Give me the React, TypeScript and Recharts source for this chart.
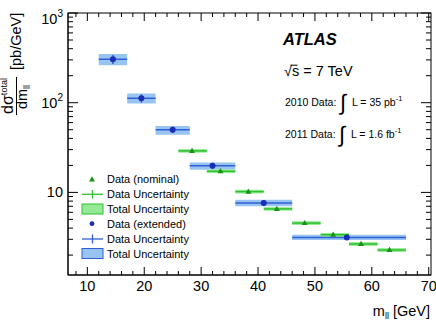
import React from 'react';
import { ComposedChart, Scatter, XAxis, YAxis, ErrorBar, ReferenceArea } from 'recharts';

// extended selection (blue): bin edges, data point, stat error, total band
const blueLo = [12, 17, 22, 28, 36, 46];
const blueHi = [17, 22, 28, 36, 46, 66];
const blueX = [14.5, 19.5, 25, 32, 41, 55.6];
const blueY = [305, 112, 50, 19.8, 7.6, 3.15];
const blueStat = [35, 12, 4, 1.6, 0.5, 0.08];
const blueTotLo = [262, 98, 44, 17.9, 7.0, 2.95];
const blueTotHi = [350, 127, 55, 21.5, 8.3, 3.38];

// nominal selection (green)
const greenLo = [26, 31, 36, 41, 46, 51, 56, 61];
const greenHi = [31, 36, 41, 46, 51, 56, 61, 66];
const greenX = [28.4, 33.4, 38.3, 43.3, 48.2, 53.2, 58.1, 63.1];
const greenY = [29, 17.2, 10.2, 6.55, 4.55, 3.37, 2.66, 2.28];
const greenStat = [0.6, 0.35, 0.2, 0.13, 0.09, 0.07, 0.05, 0.05];
const greenTotLo = [27.7, 16.4, 9.7, 6.25, 4.33, 3.21, 2.53, 2.17];
const greenTotHi = [30.4, 18.0, 10.7, 6.85, 4.77, 3.53, 2.79, 2.39];

const xTicks = [8, 10, 12, 14, 16, 18, 20, 22, 24, 26, 28, 30, 32, 34, 36, 38, 40, 42, 44, 46, 48, 50, 52, 54, 56, 58, 60, 62, 64, 66, 68, 70];
const yTicks = [2, 3, 4, 5, 6, 7, 8, 9, 10, 20, 30, 40, 50, 60, 70, 80, 90, 100, 200, 300, 400, 500, 600, 700, 800, 900, 1000];
const xDomain = [6.6, 70.4];
const yDomain = [1.2, 1000];

const extended = blueX.map((x, i) => ({
  x,
  y: blueY[i],
  xErr: [x - blueLo[i], blueHi[i] - x],
  yErr: blueStat[i],
}));
const nominal = greenX.map((x, i) => ({
  x,
  y: greenY[i],
  xErr: [x - greenLo[i], greenHi[i] - x],
  yErr: greenStat[i],
}));

const W = 436;
const H = 323;
const TOP = 13;
const RIGHT = 431;
const FONT = '"Liberation Sans", Arial, Helvetica, sans-serif';

const BLUE_BAND = '#98c4f2';
const BLUE_LINE = '#2f5fd6';
const BLUE_DOT = '#1a2db5';
const GREEN_BAND = '#94ea94';
const GREEN_LINE = '#2fbf2f';
const GREEN_DOT = '#1a931a';

const XTick = (props: any) => {
  const { x, y, payload } = props;
  const v = payload.value;
  const major = v % 10 === 0;
  const len = major ? 8 : 4;
  return (
    <g>
      <line x1={x} x2={x} y1={y} y2={y - len} stroke="#000" />
      <line x1={x} x2={x} y1={TOP} y2={TOP + len} stroke="#000" />
      {major && (
        <text x={x} y={y + 16} textAnchor="middle" fontSize={14.5} fontFamily={FONT} fill="#000">
          {v}
        </text>
      )}
    </g>
  );
};

const YTick = (props: any) => {
  const { x, y, payload } = props;
  const v = payload.value;
  const lg = Math.log10(v);
  const exp = Math.round(lg);
  const major = Math.abs(lg - exp) < 1e-9;
  const len = major ? 10 : 5;
  const ly = exp === 3 ? y + 11 : y + 5;
  return (
    <g>
      <line x1={x} x2={x + len} y1={y} y2={y} stroke="#000" />
      <line x1={RIGHT} x2={RIGHT - len} y1={y} y2={y} stroke="#000" />
      {major && (
        <text x={x - 5} y={ly} textAnchor="end" fontSize={14.5} fontFamily={FONT} fill="#000">
          10
          {exp > 1 && (
            <tspan dy={-7} fontSize={10}>
              {exp}
            </tspan>
          )}
        </text>
      )}
    </g>
  );
};

const dot = (color: string) => (p: any) => <circle cx={p.cx} cy={p.cy} r={3} fill={color} />;
const tri = (color: string) => (p: any) => (
  <polygon
    points={`${p.cx},${p.cy - 3.2} ${p.cx - 3},${p.cy + 2} ${p.cx + 3},${p.cy + 2}`}
    fill={color}
  />
);

const Legend = () => (
  <g fontFamily={FONT} fontSize={11} fill="#000">
    <polygon points="92,176.3 89,181.5 95,181.5" fill={GREEN_DOT} />
    <text x={107} y={183}>Data (nominal)</text>
    <line x1={82} x2={103} y1={194.3} y2={194.3} stroke={GREEN_LINE} strokeWidth={1.3} />
    <line x1={92.5} x2={92.5} y1={190} y2={198.5} stroke={GREEN_LINE} strokeWidth={1.3} />
    <text x={107} y={198}>Data Uncertainty</text>
    <rect x={82} y={204} width={21} height={10} fill={GREEN_BAND} stroke={GREEN_LINE} />
    <text x={107} y={213}>Total Uncertainty</text>
    <circle cx={92} cy={223.7} r={2.4} fill={BLUE_DOT} />
    <text x={107} y={227.5}>Data (extended)</text>
    <line x1={82} x2={103} y1={239} y2={239} stroke={BLUE_LINE} strokeWidth={1.3} />
    <line x1={92.5} x2={92.5} y1={234.5} y2={243.5} stroke={BLUE_LINE} strokeWidth={1.3} />
    <text x={107} y={243}>Data Uncertainty</text>
    <rect x={82} y={248.5} width={21} height={10} fill={BLUE_BAND} stroke={BLUE_LINE} />
    <text x={107} y={257.5}>Total Uncertainty</text>
  </g>
);

const Annotations = () => (
  <g fontFamily={FONT} fill="#000">
    <text x={283} y={45} fontSize={16.5} fontWeight="bold" fontStyle="italic">
      ATLAS
    </text>
    <text x={284} y={75.5} fontSize={14.5}>
      √s = 7 TeV
    </text>
    <line x1={290.5} x2={297.5} y1={65.2} y2={65.2} stroke="#000" strokeWidth={1} />
    <text x={285} y={106} fontSize={10.5}>2010 Data:</text>
    <text x={340} y={110} fontSize={22}>∫</text>
    <text x={352} y={106} fontSize={10.5}>
      L = 35 pb<tspan dy={-5} fontSize={7.5}>-1</tspan>
    </text>
    <text x={285} y={138} fontSize={10.5}>2011 Data:</text>
    <text x={339} y={142} fontSize={22}>∫</text>
    <text x={351} y={138} fontSize={10.5}>
      L = 1.6 fb<tspan dy={-5} fontSize={7.5}>-1</tspan>
    </text>

    {/* y-axis title: d sigma / d m_ll [pb/GeV] */}
    <text transform="translate(20.5,70) rotate(-90)" fontSize={14.5}>
      [pb/GeV]
    </text>
    <text transform="translate(13,96) rotate(-90)" textAnchor="middle" fontSize={16}>
      dσ<tspan dy={-6} fontSize={9}>total</tspan>
    </text>
    <line x1={16.5} x2={16.5} y1={77} y2={115} stroke="#000" strokeWidth={1} />
    <text transform="translate(27,97) rotate(-90)" textAnchor="middle" fontSize={14.5}>
      dm<tspan dy={3} fontSize={9}>ll</tspan>
    </text>

    <text x={430} y={316} textAnchor="end" fontSize={14.5}>
      m<tspan dy={3} fontSize={9}>ll</tspan>
      <tspan dy={-3}> [GeV]</tspan>
    </text>
  </g>
);

export default function App() {
  return (
    <div style={{ position: 'absolute', left: 0, top: 0, width: W, height: H, background: '#fff' }}>
      <ComposedChart width={W} height={H} margin={{ top: TOP, right: W - RIGHT, bottom: 0, left: 0 }}>
        <XAxis
          xAxisId={0}
          type="number"
          dataKey="x"
          domain={xDomain}
          ticks={xTicks}
          interval={0}
          allowDataOverflow
          height={48}
          tickSize={0}
          tickMargin={0}
          tickLine={false}
          tick={XTick}
          axisLine={{ stroke: '#000' }}
        />
        <YAxis
          yAxisId={0}
          type="number"
          dataKey="y"
          scale="log"
          domain={yDomain}
          ticks={yTicks}
          interval={0}
          allowDataOverflow
          width={68}
          tickSize={0}
          tickMargin={0}
          tickLine={false}
          tick={YTick}
          axisLine={{ stroke: '#000' }}
        />
        {blueLo.map((lo, i) => (
          <ReferenceArea
            key={`b${i}`}
            x1={lo}
            x2={blueHi[i]}
            y1={blueTotLo[i]}
            y2={blueTotHi[i]}
            fill={BLUE_BAND}
            fillOpacity={1}
            stroke="none"
          />
        ))}
        {greenLo.map((lo, i) => (
          <ReferenceArea
            key={`g${i}`}
            x1={lo}
            x2={greenHi[i]}
            y1={greenTotLo[i]}
            y2={greenTotHi[i]}
            fill={GREEN_BAND}
            fillOpacity={1}
            stroke="none"
          />
        ))}
        <Scatter data={extended} shape={dot(BLUE_DOT)} isAnimationActive={false}>
          <ErrorBar dataKey="xErr" direction="x" width={0} stroke={BLUE_LINE} strokeWidth={1.5} />
          <ErrorBar dataKey="yErr" direction="y" width={0} stroke={BLUE_LINE} strokeWidth={1.5} />
        </Scatter>
        <Scatter data={nominal} shape={tri(GREEN_DOT)} isAnimationActive={false}>
          <ErrorBar dataKey="xErr" direction="x" width={0} stroke={GREEN_LINE} strokeWidth={1.5} />
          <ErrorBar dataKey="yErr" direction="y" width={0} stroke={GREEN_LINE} strokeWidth={1.5} />
        </Scatter>
      </ComposedChart>
      <svg width={W} height={H} style={{ position: 'absolute', left: 0, top: 0, pointerEvents: 'none' }}>
        <rect x={68} y={TOP} width={RIGHT - 68} height={275 - TOP} fill="none" stroke="#000" />
        <Legend />
        <Annotations />
      </svg>
    </div>
  );
}
